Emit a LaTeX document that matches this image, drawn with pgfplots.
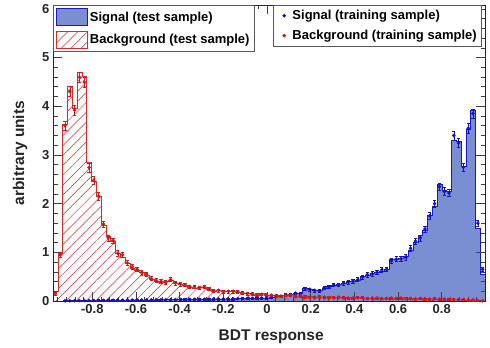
\documentclass[border=0pt]{standalone}
\usepackage{fontspec}
\setmainfont{Liberation Sans}
\usepackage{pgfplots}
\pgfplotsset{compat=1.18}
\usepackage{pgfplotstable}
\usetikzlibrary{patterns.meta}

\definecolor{sigfill}{RGB}{122,142,210}
\definecolor{sigline}{RGB}{25,25,200}
\definecolor{sigpt}{RGB}{20,20,190}
\definecolor{bkgline}{RGB}{225,40,40}
\definecolor{bkgpt}{RGB}{205,25,25}

% columns: s = signal (test), st = signal (training), b = background (test), bt = background (training)
\pgfplotstableread{
s st b bt
0 nan 0.2 0.15
0 nan 0.97 0.95
0.003 0.003 3.62 3.6
0.005 0.005 4.42 4.3
0.008 0.007 3.95 3.92
0.008 0.009 4.7 4.6
0.01 0.01 4.62 4.5
0.01 0.011 2.85 2.74
0.012 0.011 2.45 2.48
0.012 0.013 2.15 2.15
0.013 0.013 1.56 1.58
0.014 0.015 1.32 1.3
0.015 0.015 1.22 1.24
0.016 0.016 0.97 0.98
0.016 0.017 0.9 0.95
0.018 0.018 0.78 0.78
0.018 0.019 0.68 0.7
0.02 0.02 0.64 0.65
0.02 0.021 0.6 0.58
0.022 0.022 0.53 0.55
0.022 0.023 0.45 0.46
0.024 0.024 0.41 0.42
0.025 0.025 0.39 0.4
0.025 0.026 0.4 0.38
0.027 0.027 0.42 0.44
0.028 0.029 0.36 0.37
0.03 0.03 0.34 0.35
0.03 0.031 0.33 0.33
0.032 0.032 0.29 0.3
0.033 0.034 0.27 0.29
0.035 0.035 0.28 0.27
0.036 0.037 0.29 0.29
0.037 0.038 0.24 0.25
0.04 0.04 0.2 0.21
0.04 0.041 0.21 0.22
0.042 0.043 0.2 0.19
0.044 0.044 0.19 0.2
0.045 0.046 0.2 0.2
0.048 0.048 0.18 0.19
0.05 0.051 0.16 0.17
0.052 0.053 0.16 0.15
0.055 0.056 0.14 0.15
0.058 0.059 0.12 0.13
0.06 0.062 0.15 0.14
0.065 0.066 0.12 0.13
0.07 0.072 0.11 0.12
0.1 0.11 0.1 0.11
0.11 0.1 0.11 0.1
0.12 0.13 0.12 0.12
0.14 0.13 0.13 0.12
0.15 0.16 0.1 0.1
0.16 0.15 0.09 0.1
0.26 0.25 0.08 0.09
0.25 0.24 0.09 0.08
0.21 0.22 0.08 0.08
0.22 0.21 0.08 0.09
0.26 0.27 0.07 0.08
0.3 0.29 0.08 0.07
0.32 0.33 0.07 0.07
0.34 0.33 0.07 0.08
0.36 0.37 0.06 0.07
0.4 0.39 0.07 0.06
0.4 0.41 0.06 0.06
0.42 0.44 0.07 0.07
0.5 0.49 0.06 0.07
0.53 0.54 0.06 0.05
0.57 0.56 0.05 0.06
0.6 0.59 0.06 0.06
0.62 0.64 0.06 0.05
0.66 0.65 0.05 0.05
0.85 0.82 0.06 0.06
0.86 0.86 0.05 0.05
0.88 0.87 0.05 0.06
0.92 0.9 0.05 0.05
1.05 1.08 0.04 0.05
1.2 1.23 0.05 0.04
1.35 1.3 0.04 0.05
1.46 1.48 0.05 0.04
1.77 1.75 0.04 0.04
1.95 2.0 0.04 0.05
2.39 2.35 0.04 0.04
2.28 2.25 0.03 0.04
2.25 2.22 0.04 0.03
3.3 3.4 0.03 0.03
3.28 3.25 0.03 0.03
2.76 2.75 0.02 0.03
3.52 3.55 0.02 0.02
3.92 3.85 0.01 0.02
1.5 1.6 0.005 0.01
0.55 0.65 0 0.005
0.55 nan 0 nan
}\data

\begin{document}
\begin{tikzpicture}
\pgfplotsset{
  common/.style={
    scale only axis, width=432pt, height=296pt,
    xmin=-0.98, xmax=0.998, ymin=0, ymax=6.08,
  },
}
\begin{axis}[common, name=ax,
  axis on top,
  axis line style={black!85, line width=0.7pt},
  xtick={-0.8,-0.6,-0.4,-0.2,0,0.2,0.4,0.6,0.8},
  ytick={0,1,2,3,4,5,6},
  minor xtick={-0.96,-0.92,-0.88,-0.84,-0.76,-0.72,-0.68,-0.64,-0.56,-0.52,-0.48,-0.44,-0.36,-0.32,-0.28,-0.24,-0.16,-0.12,-0.08,-0.04,0.04,0.08,0.12,0.16,0.24,0.28,0.32,0.36,0.44,0.48,0.52,0.56,0.64,0.68,0.72,0.76,0.84,0.88,0.92,0.96},
  minor ytick={0.2,0.4,0.6,0.8,1.2,1.4,1.6,1.8,2.2,2.4,2.6,2.8,3.2,3.4,3.6,3.8,4.2,4.4,4.6,4.8,5.2,5.4,5.6,5.8,6.0},
  tick align=inside,
  major tick length=9pt, minor tick length=4.5pt,
  tick style={black!75, line width=0.6pt},
  /pgf/number format/assume math mode=true,
  xticklabel={\pgfmathprintnumber[fixed,precision=1]{\tick}},
  ticklabel style={font=\bfseries\fontsize{13}{13}\selectfont, text=black!85},
  xlabel={BDT response}, ylabel={arbitrary units},
  label style={font=\bfseries\fontsize{15.5}{16}\selectfont, text=black!85},
  xlabel style={at={(axis description cs:0.505,-0.12)}, anchor=center},
  ylabel style={at={(axis description cs:-0.076,0.5)}, anchor=center},
  legend style={at={(0,1)}, anchor=north west, draw=black!65, line width=0.6pt,
    fill=white, font=\bfseries\fontsize{13}{13}\selectfont,
    inner xsep=3pt, inner ysep=3pt, row sep=5pt,
    /tikz/every even column/.append style={column sep=5pt}},
  legend cell align=left,
  legend image code/.code={\draw[#1, line width=0.6pt] (0pt,-8.5pt) rectangle (31pt,8.5pt);},
]
\addplot[const plot, fill=sigfill, draw=sigline, line width=0.6pt]
  table[x expr={-0.98+\coordindex*0.021978}, y=s] {\data} \closedcycle;
\addlegendentry{Signal (test sample)}
\addplot[const plot, draw=bkgline, line width=0.6pt,
  pattern={Lines[angle=45,distance=7pt,line width=0.5pt]}, pattern color=bkgline]
  table[x expr={-0.98+\coordindex*0.021978}, y=b] {\data} \closedcycle;
\addlegendentry{Background (test sample)}
\end{axis}

\begin{axis}[common, hide axis,
  legend style={at={(0.993,1)}, anchor=north east, draw=black!65, line width=0.6pt,
    fill=white, font=\bfseries\fontsize{13}{13}\selectfont,
    inner xsep=3pt, inner ysep=3pt, row sep=5pt,
    /tikz/every even column/.append style={column sep=2pt}},
  legend cell align=left,
  legend image code/.code={\path (0pt,0pt) (14pt,0pt); \fill[#1] (8pt,0pt) circle (1.5pt);},
]
\addplot[only marks, mark=*, mark size=1.6pt, color=sigpt,
  error bars/.cd, y dir=both, y explicit, error bar style={line width=0.6pt}]
  table[x expr={-0.969011+\coordindex*0.021978}, y=st,
        y error expr={0.01+0.045*sqrt(abs(\thisrow{st}))}] {\data};
\addlegendentry{Signal (training sample)}
\addplot[only marks, mark=*, mark size=1.6pt, color=bkgpt,
  error bars/.cd, y dir=both, y explicit, error bar style={line width=0.6pt}]
  table[x expr={-0.969011+\coordindex*0.021978}, y=bt,
        y error expr={0.01+0.045*sqrt(abs(\thisrow{bt}))}] {\data};
\addlegendentry{Background (training sample)}
\end{axis}

\pgfresetboundingbox
\path ([xshift=-53pt,yshift=-46pt]ax.south west) rectangle ([xshift=5pt,yshift=5pt]ax.north east);
\end{tikzpicture}
\end{document}
